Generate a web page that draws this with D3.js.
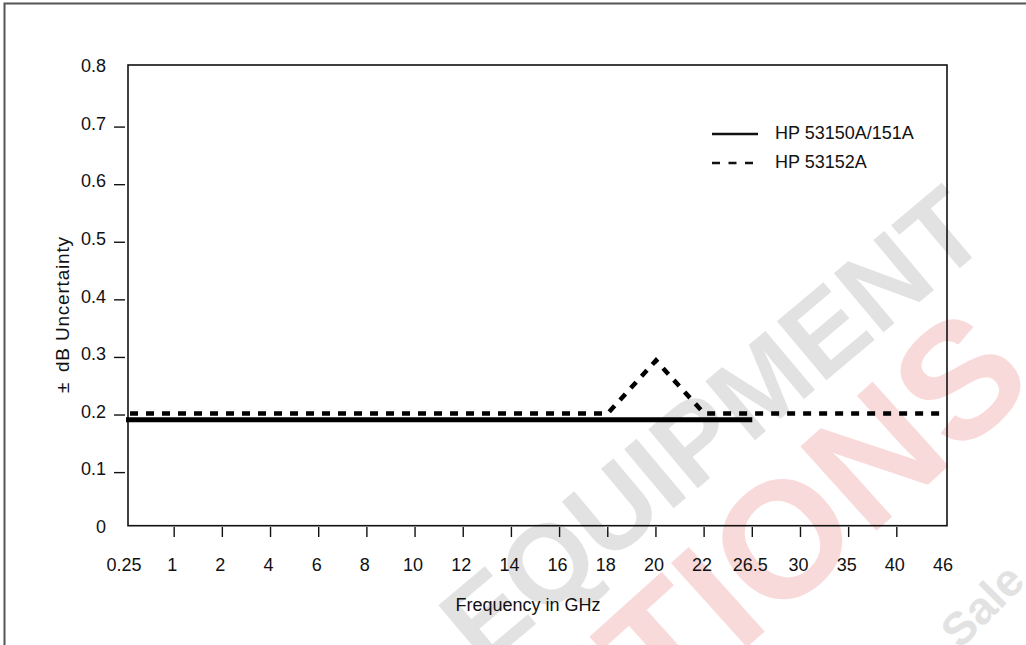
<!DOCTYPE html>
<html>
<head>
<meta charset="utf-8">
<script src="https://cdn.jsdelivr.net/npm/d3@7"></script>
<style>
  body { margin: 0; background: #fff; }
  text { font-family: "Liberation Sans", Arial, sans-serif; font-size: 18px; fill: #111; }
  text.mark { font-weight: bold; }
</style>
</head>
<body>
<div id="main-chart"></div>
<script>
// values
const freqLabels = ["0.25", "1", "2", "4", "6", "8", "10", "12", "14", "16", "18", "20", "22", "26.5", "30", "35", "40", "46"]
const yTickValues = [0, 0.1, 0.2, 0.3, 0.4, 0.5, 0.6, 0.7, 0.8]
const hp53150Freq = ["0.25", "26.5"]
const hp53150Unc = [0.184, 0.184]
const hp53152Freq = ["0.25", "18", "20", "22", "46"]
const hp53152Unc = [0.195, 0.195, 0.287, 0.195, 0.195]
const seriesNames = ["HP 53150A/151A", "HP 53152A"]

const width = 1026
const height = 645
const margin = {top: 65, bottom: 119.3, right: 79, left: 128}

const svg = d3.select("#main-chart")
  .append("svg")
  .attr("width", width)
  .attr("height", height)

// faint dealer watermark sitting behind the chart
svg.append("text")
  .attr("class", "mark")
  .attr("transform", "translate(712,425) rotate(-40)")
  .attr("text-anchor", "middle")
  .attr("dy", "0.35em")
  .style("font-size", "112px")
  .style("fill", "#e2e2e2")
  .text("EQUIPMENT")

svg.append("text")
  .attr("class", "mark")
  .attr("transform", "translate(1000,342) rotate(-42)")
  .attr("text-anchor", "end")
  .attr("dy", "0.35em")
  .style("font-size", "165px")
  .style("fill", "#f9dada")
  .text("SOLUTIONS")

svg.append("text")
  .attr("class", "mark")
  .attr("transform", "translate(960,650) rotate(-45)")
  .style("font-size", "46px")
  .style("fill", "#e2e2e2")
  .text("Sale")

// outer frame (only left/top visible in the picture)
svg.append("rect")
  .attr("x", 4.5).attr("y", 3.5)
  .attr("width", 1200).attr("height", 800)
  .attr("fill", "none")
  .attr("stroke", "#555")
  .attr("stroke-width", 2)

const x = d3.scalePoint().domain(freqLabels).range([126, 945])
const y = d3.scaleLinear().domain([0, 0.8]).range([height - margin.bottom, margin.top])

// plot box
svg.append("rect")
  .attr("x", margin.left)
  .attr("y", margin.top)
  .attr("width", width - margin.right - margin.left)
  .attr("height", height - margin.bottom - margin.top)
  .attr("fill", "none")
  .attr("stroke", "#111")
  .attr("stroke-width", 1.6)

// y ticks and labels
svg.selectAll(".ytick")
  .data(yTickValues.filter(d => d > 0 && d < 0.8))
  .enter()
  .append("line")
    .attr("x1", 114).attr("x2", 125)
    .attr("y1", d => y(d) + 4.5).attr("y2", d => y(d) + 4.5)
    .attr("stroke", "#111")
    .attr("stroke-width", 1.4)

svg.selectAll(".ylabel")
  .data(yTickValues)
  .enter()
  .append("text")
    .attr("text-anchor", "end")
    .attr("x", 106)
    .attr("y", d => y(d) + 1)
    .attr("dy", "0.35em")
    .text(d => d3.format("")(d))

// x ticks and labels
svg.selectAll(".xtick")
  .data(freqLabels.slice(1, -1))
  .enter()
  .append("line")
    .attr("x1", d => x(d)).attr("x2", d => x(d))
    .attr("y1", 527).attr("y2", 537)
    .attr("stroke", "#111")
    .attr("stroke-width", 1.4)

svg.selectAll(".xlabel")
  .data(freqLabels)
  .enter()
  .append("text")
    .attr("text-anchor", "middle")
    .attr("x", d => x(d) - 2)
    .attr("y", 565)
    .attr("dy", "0.35em")
    .text(d => d)

// axis titles
svg.append("text")
  .attr("text-anchor", "middle")
  .attr("x", 528)
  .attr("y", 605)
  .attr("dy", "0.35em")
  .text("Frequency in GHz")

svg.append("text")
  .attr("transform", "translate(62,393) rotate(-90)")
  .attr("dy", "0.35em")
  .style("font-size", "19px")
  .text("±")
svg.append("text")
  .attr("transform", "translate(62,372) rotate(-90)")
  .attr("dy", "0.35em")
  .style("font-size", "19px")
  .style("letter-spacing", "0.8px")
  .text("dB Uncertainty")

// series
const line = d3.line()
  .x(d => x(d[0]))
  .y(d => y(d[1]))

svg.append("path")
  .datum(d3.zip(hp53150Freq, hp53150Unc))
  .attr("d", line)
  .attr("fill", "none")
  .attr("stroke", "#000")
  .attr("stroke-width", 5)

svg.append("path")
  .datum(d3.zip(hp53152Freq, hp53152Unc))
  .attr("d", line)
  .attr("fill", "none")
  .attr("stroke", "#000")
  .attr("stroke-width", 4.5)
  .attr("stroke-dasharray", "8,8")
  .attr("stroke-dashoffset", -4)

// legend
svg.selectAll(".legend-line")
  .data(seriesNames)
  .enter()
  .append("line")
    .attr("x1", 712).attr("x2", 758)
    .attr("y1", (d, i) => 134 + i * 29).attr("y2", (d, i) => 134 + i * 29)
    .attr("stroke", "#111")
    .attr("stroke-width", 2.6)
    .attr("stroke-dasharray", (d, i) => i === 0 ? null : "8,8.5")

svg.selectAll(".legend-label")
  .data(seriesNames)
  .enter()
  .append("text")
    .attr("x", 775)
    .attr("y", (d, i) => 133 + i * 29)
    .attr("dy", "0.35em")
    .text(d => d)
</script>
</body>
</html>
